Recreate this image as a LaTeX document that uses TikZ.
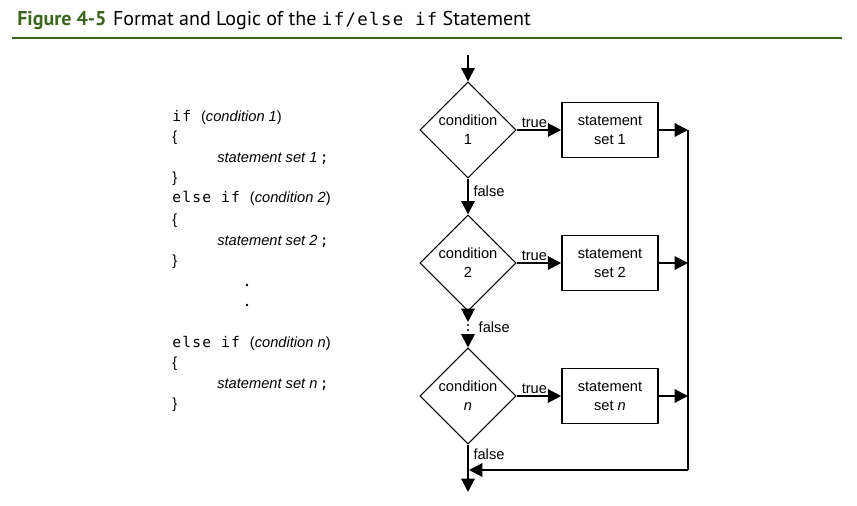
\documentclass[tikz,border=0pt]{standalone}
\usepackage{fontspec}
\setmainfont{Liberation Sans}
\newfontfamily\codefont{DejaVu Sans Mono}[LetterSpace=8]
\newfontfamily\titlefont{PT Sans}
\usetikzlibrary{shapes.geometric,arrows.meta}
\definecolor{figgreen}{RGB}{60,102,32}
\tikzset{
  flow/.style={line width=1.6pt,-{Triangle[length=10pt,width=10pt]}},
  cond/.style={diamond,draw,line width=0.8pt,minimum width=72pt,minimum height=72pt,inner sep=0pt,align=center,font=\fontsize{11pt}{14pt}\selectfont},
  setbox/.style={rectangle,draw,line width=1.2pt,minimum width=72pt,minimum height=41pt,align=center,font=\fontsize{11pt}{14pt}\selectfont},
  lbl/.style={font=\fontsize{11pt}{13pt}\selectfont},
  code/.style={anchor=base west,inner sep=0pt,font=\fontsize{11pt}{13pt}\selectfont}
}
\begin{document}
\begin{tikzpicture}[x=0.75pt,y=-0.75pt]
\useasboundingbox (0,0) rectangle (857,506);

% Title and rule
\node[anchor=base west,inner sep=0pt,font=\titlefont\fontsize{15pt}{18pt}\selectfont] (title) at (17,26)
  {{\bfseries\color{figgreen}Figure 4-5}\hspace{5pt}Format and Logic of the {\codefont\fontsize{13pt}{16pt}\selectfont if/else if} Statement};
\draw[figgreen,line width=1.6pt] (12,38) -- (842,38);

% Code on the left
\node[code] (l1) at (172,122) {{\codefont if }(\textit{condition 1})};
\node[code] (l2) at (172,142) {\{};
\node[code] (l3) at (217,163) {\textit{statement set 1}\,{\codefont;}};
\node[code] (l4) at (172,183) {\}};
\node[code] (l5) at (172,203) {{\codefont else if }(\textit{condition 2})};
\node[code] (l6) at (172,224) {\{};
\node[code] (l7) at (217,245) {\textit{statement set 2}\,{\codefont;}};
\node[code] (l8) at (172,265) {\}};
\fill (247,285) circle (1pt) (247,305) circle (1pt);
\node[code] (l9) at (172,347) {{\codefont else if }(\textit{condition n})};
\node[code] (l10) at (172,367) {\{};
\node[code] (l11) at (217,388) {\textit{statement set n}\,{\codefont;}};
\node[code] (l12) at (172,408) {\}};

% Flowchart: one row per condition
\foreach \k/\y/\t in {1/130/1, 2/263/2, n/396/{\textit{n}}} {
  \node[cond] (cond\k) at (468,\y) {condition\\\t};
  \node[setbox] (set\k) at (610,\y) {statement\\set \t};
  \coordinate (right\k) at (688,\y);
  \draw[flow] (cond\k) -- node[lbl,above,pos=0.4,inner sep=1pt] {true} (set\k);
  \draw[flow] (set\k) -- (right\k);
}

% Entry and false branches
\coordinate (start) at (468,55);
\draw[flow] (start) -- (cond1);
\draw[flow] (cond1) -- node[lbl,right,pos=0.35] {false} (cond2);
\coordinate (gapa) at (468,322);
\coordinate (gapb) at (468,334);
\draw[flow] (cond2) -- (gapa);
\fill (468,325) circle (0.9pt) (468,330) circle (0.9pt);
\node[lbl,right] (falsetwo) at (474,327) {false};
\draw[flow] (gapb) -- (condn);

% Exit and return line
\coordinate (exit) at (468,492);
\coordinate (corner) at (688,470);
\coordinate (join) at (469,470);
\draw[flow] (condn) -- node[lbl,right,pos=0.2] {false} (exit);
\draw[line width=1.6pt] (right1) -- (corner);
\draw[flow] (corner) -- (join);
\end{tikzpicture}
\end{document}
